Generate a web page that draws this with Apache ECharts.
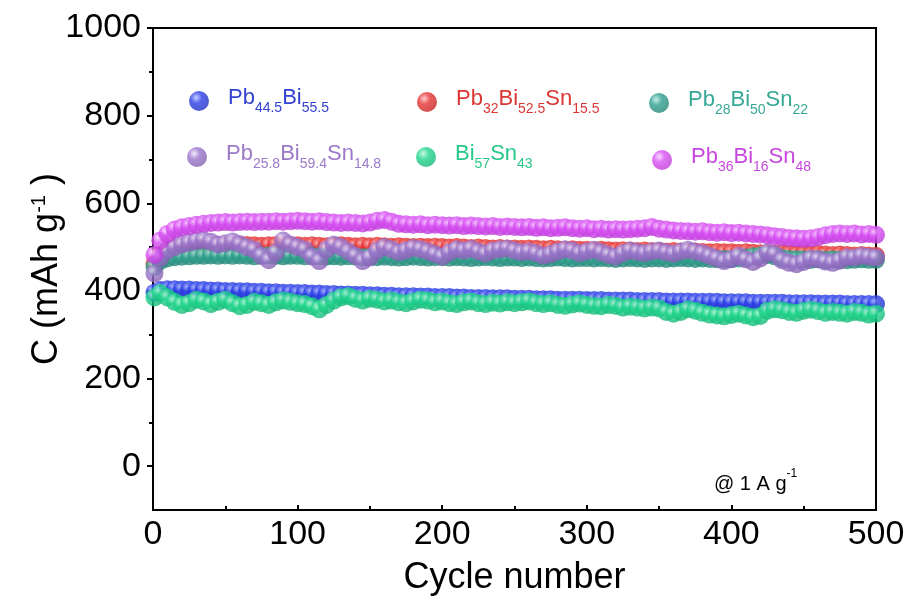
<!DOCTYPE html>
<html>
<head>
<meta charset="utf-8">
<script src="https://cdn.jsdelivr.net/npm/echarts@6/dist/echarts.min.js"></script>
<style>
html,body{margin:0;padding:0;background:#fff;}
#c{width:912px;height:610px;}
</style>
</head>
<body>
<div id="c"></div>
<script>
const cycles = [1,5,10,15,20,25,30,35,40,45,
50,55,60,65,70,75,80,85,90,95,
100,105,110,115,120,125,130,135,140,145,
150,155,160,165,170,175,180,185,190,195,
200,205,210,215,220,225,230,235,240,245,
250,255,260,265,270,275,280,285,290,295,
300,305,310,315,320,325,330,335,340,345,
350,355,360,365,370,375,380,385,390,395,
400,405,410,415,420,425,430,435,440,445,
450,455,460,465,470,475,480,485,490,495,
500];

const blueVals = [396,402,404,404,403,403,402,402,401,401,
400,400,399,399,398,398,397,397,396,396,
395,395,394,394,393,393,392,392,391,391,
390,390,389,389,388,388,388,387,387,386,
386,386,385,385,384,384,384,383,383,383,
382,382,382,381,381,381,380,380,380,380,
379,379,379,378,378,378,378,377,377,377,
377,376,376,376,376,375,375,375,375,374,
374,374,374,373,373,373,373,373,372,372,
372,372,371,371,371,371,370,370,370,370,
370];

const redVals = [462,482,492,497,500,501,502,503,503,504,
504,503,504,505,504,503,504,505,504,503,
504,503,504,503,502,503,504,503,502,503,
502,503,502,501,502,501,500,501,500,501,
500,499,500,499,498,499,498,497,498,497,
497,496,497,496,495,496,495,494,495,494,
494,493,494,493,492,493,492,491,492,491,
491,490,491,490,489,490,489,488,489,488,
488,487,488,487,486,486,485,486,485,484,
484,483,484,483,482,483,482,481,482,481,
480];

const tealVals = [455,468,474,477,478,479,480,480,481,480,
481,480,481,480,479,480,481,480,479,480,
480,479,480,479,478,479,478,479,478,477,
478,477,478,477,476,477,478,477,476,477,
477,476,477,476,475,476,477,476,475,476,
476,475,476,475,474,475,476,475,474,475,
475,474,475,474,473,474,475,474,473,474,
474,473,474,475,474,473,474,473,472,473,
473,474,476,479,481,482,479,475,473,472,
472,471,472,471,472,471,470,471,472,471,
471];

const purpleVals = [440,475,492,500,506,510,514,516,512,506,
509,513,507,500,494,480,470,488,515,506,
500,494,478,468,494,506,500,490,480,468,
476,492,500,495,488,492,498,495,490,484,
478,488,495,492,496,490,485,492,495,497,
492,488,490,486,480,484,490,495,492,486,
490,494,488,482,478,486,492,489,486,490,
492,488,485,490,494,490,486,480,474,468,
472,480,472,466,474,488,484,470,464,461,
466,474,472,467,464,469,477,476,480,478,
476];

const greenVals = [385,395,385,375,368,372,380,376,370,375,
380,372,365,368,375,372,368,374,378,375,
372,370,365,358,368,378,385,388,382,378,
382,380,376,378,374,372,376,380,378,374,
376,372,370,374,376,372,370,373,371,374,
372,374,376,372,370,372,368,366,369,371,
368,366,365,368,366,362,364,362,360,362,
360,352,348,352,358,355,350,346,344,342,
345,348,344,340,343,355,358,356,352,350,
355,357,354,350,352,350,348,352,350,346,
348];

const pinkVals = [482,515,530,540,545,548,551,553,555,556,
557,556,557,558,557,558,558,559,558,559,
560,559,558,559,557,556,555,556,555,554,
556,560,562,558,553,552,551,552,550,551,
550,549,550,548,549,548,547,548,546,547,
546,545,546,544,545,543,544,545,543,542,
543,541,542,540,541,540,541,542,543,546,
542,540,538,537,536,535,536,534,533,534,
532,533,531,530,529,527,525,523,521,520,
519,520,523,527,530,531,530,531,529,530,
528];

const yTickValues = [0,200,400,600,800,1000];
const yMinorValues = [100,300,500,700,900];

const seriesDefs = [
  {name:'Pb44.5Bi55.5', vals: blueVals, color:'#2b3fe8', light:'#b8c2ff', dark:'#2231c0', text:'#3342d2',
   parts:[['m','Pb'],['s','44.5'],['m','Bi'],['s','55.5']]},
  {name:'Pb32Bi52.5Sn15.5', vals: redVals, color:'#e83434', light:'#ffc0c0', dark:'#c42424', text:'#dc3535',
   parts:[['m','Pb'],['s','32'],['m','Bi'],['s','52.5'],['m','Sn'],['s','15.5']]},
  {name:'Pb28Bi50Sn22', vals: tealVals, color:'#30a08e', light:'#b5eadf', dark:'#248676', text:'#36a896',
   parts:[['m','Pb'],['s','28'],['m','Bi'],['s','50'],['m','Sn'],['s','22']]},
  {name:'Pb25.8Bi59.4Sn14.8', vals: purpleVals, color:'#9c76cb', light:'#eee4fa', dark:'#8560b3', text:'#9b78c8',
   parts:[['m','Pb'],['s','25.8'],['m','Bi'],['s','59.4'],['m','Sn'],['s','14.8']]},
  {name:'Bi57Sn43', vals: greenVals, color:'#20d68d', light:'#bff8de', dark:'#17b877', text:'#27c98a',
   parts:[['m','Bi'],['s','57'],['m','Sn'],['s','43']]},
  {name:'Pb36Bi16Sn48', vals: pinkVals, color:'#d850f4', light:'#f8d2ff', dark:'#bd3ad8', text:'#c846e0',
   parts:[['m','Pb'],['s','36'],['m','Bi'],['s','16'],['m','Sn'],['s','48']]}
];

// legend placement (icon centre)
const legendPos = {
  'Pb44.5Bi55.5':[194,96],
  'Pb32Bi52.5Sn15.5':[422,97],
  'Pb28Bi50Sn22':[654,98],
  'Pb25.8Bi59.4Sn14.8':[192,152],
  'Bi57Sn43':[421,152],
  'Pb36Bi16Sn48':[657,155]
};

function ball(d){
  return {type:'radial', x:0.36, y:0.33, r:0.7,
    colorStops:[{offset:0,color:d.light},{offset:0.4,color:d.color},{offset:1,color:d.dark}]};
}

const FONT = 'Liberation Sans, Arial, sans-serif';

const series = seriesDefs.map(d => ({
  name: d.name,
  type: 'scatter',
  symbol: 'circle',
  symbolSize: 18,
  itemStyle: {color: ball(d)},
  data: cycles.map((c,i) => [c, d.vals[i]]),
  animation: false,
  emphasis: {disabled: true}
}));

const legends = seriesDefs.map(d => {
  const p = legendPos[d.name];
  return {
    data: [d.name],
    left: p[0]-10, top: p[1]-14,
    icon: 'circle',
    itemWidth: 20, itemHeight: 20,
    selectedMode: false,
    formatter: () => '{g| }' + d.parts.map(t => '{' + t[0] + '|' + t[1] + '}').join(''),
    textStyle: {
      fontFamily: FONT,
      rich: {
        g: {width: 14},
        m: {fontSize: 22, color: d.text, lineHeight: 28, verticalAlign: 'top', fontFamily: FONT},
        s: {fontSize: 14, color: d.text, lineHeight: 10, verticalAlign: 'bottom', fontFamily: FONT}
      }
    }
  };
});

const chart = echarts.init(document.getElementById('c'), null, {renderer:'canvas'});
chart.setOption({
  animation: false,
  backgroundColor: '#fff',
  grid: {left:153, right:36, top:28, bottom:100, show:true, borderColor:'#000', borderWidth:2,
         backgroundColor:'transparent', containLabel:false, outerBoundsMode:'none'},
  legend: legends,
  xAxis: {
    type:'value', min:0, max:500, interval:100,
    name:'Cycle number', nameLocation:'middle', nameGap:50, nameMoveOverlap:false,
    nameTextStyle:{fontSize:36, color:'#000', fontFamily:FONT},
    axisLine:{show:true, onZero:false, lineStyle:{color:'#000', width:2}},
    axisTick:{show:true, inside:true, length:5, lineStyle:{color:'#000', width:2}},
    minorTick:{show:true, splitNumber:2, length:4, lineStyle:{color:'#000', width:2}},
    axisLabel:{fontSize:34, color:'#000', margin:8, fontFamily:FONT, formatter: v => String(v)},
    splitLine:{show:false}
  },
  yAxis: [{
    type:'value', min:-100, max:1000,
    name:'{n|C (mAh g}{p|-1}{n| )}', nameLocation:'middle', nameRotate:90, nameGap:88, nameMoveOverlap:false,
    nameTextStyle:{color:'#000', fontFamily:FONT,
      rich:{
        n:{fontSize:36, lineHeight:36, verticalAlign:'bottom', color:'#000', fontFamily:FONT},
        p:{fontSize:20, lineHeight:20, verticalAlign:'top', padding:[0,0,28,0], color:'#000', fontFamily:FONT}
      }},
    axisLine:{show:true, onZero:false, lineStyle:{color:'#000', width:2}},
    axisTick:{show:true, inside:false, length:6, customValues: yTickValues, lineStyle:{color:'#000', width:2}},
    axisLabel:{fontSize:34, color:'#000', margin:12, customValues: yTickValues, fontFamily:FONT, formatter: v => String(v)},
    splitLine:{show:false}
  },{
    type:'value', min:-100, max:1000, position:'left', offset:0,
    axisLine:{show:false},
    axisTick:{show:true, inside:false, length:4, customValues: yMinorValues, lineStyle:{color:'#000', width:2}},
    axisLabel:{show:false},
    splitLine:{show:false}
  }],
  graphic: [{
    type:'text', left:714, top:468, z:100,
    style:{
      text:'{a|@ 1 A g}{b|-1}',
      fill:'#000',
      rich:{
        a:{fontSize:20, lineHeight:26, verticalAlign:'bottom', fill:'#000', fontFamily:FONT},
        b:{fontSize:12, lineHeight:12, verticalAlign:'top', fill:'#000', fontFamily:FONT}
      }
    }
  }],
  series: series
});
</script>
</body>
</html>
